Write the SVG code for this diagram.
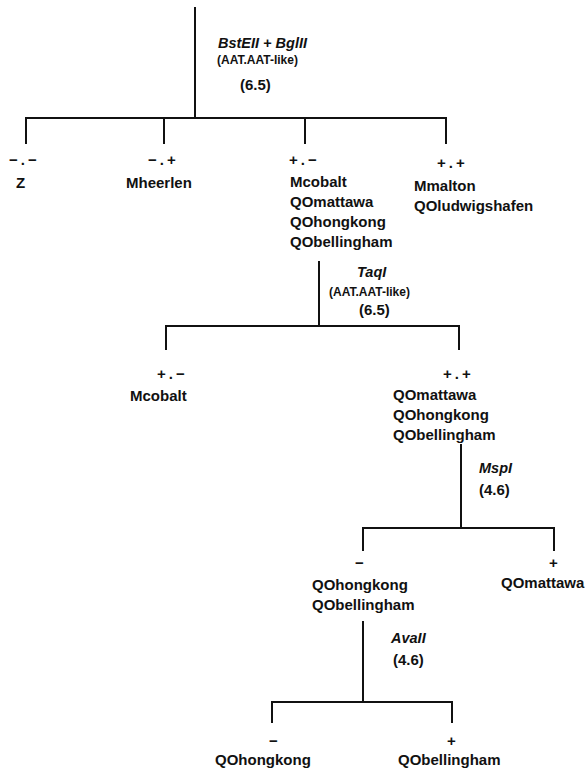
<svg xmlns="http://www.w3.org/2000/svg" width="585" height="772" viewBox="0 0 585 772">
<style>
.ln{stroke:#111;stroke-width:2;fill:none;stroke-linecap:square}
text{font-family:"Liberation Sans",Arial,sans-serif;fill:#111}
.lb{font-size:15px;font-weight:bold}
.sg{font-size:15px;font-weight:bold;letter-spacing:3px}
.en{font-size:14.5px;font-style:italic;font-weight:bold}
.sm{font-size:12px;font-weight:bold}
.nm{font-size:15px;font-weight:bold}
</style>
<rect width="585" height="772" fill="#fff"/>
<g id="connectors">
<path class="ln" d="M195,8 V118 M26,118 H446 M26,118 V143 M164,118 V143 M305,118 V143 M446,118 V143"/>
<path class="ln" d="M319,262 V326 M166,326 H459 M166,326 V349 M459,326 V349"/>
<path class="ln" d="M461,445 V528 M363,528 H554 M363,528 V550 M554,528 V550"/>
<path class="ln" d="M363,622 V702 M272,702 H452 M272,702 V722 M452,702 V722"/>
<text class="en" x="218" y="48">BstEII + BglII</text>
<text class="sm" x="217" y="64">(AAT.AAT-like)</text>
<text class="nm" x="240" y="90">(6.5)</text>
<text class="en" x="357" y="277">TaqI</text>
<text class="sm" x="329" y="296">(AAT.AAT-like)</text>
<text class="nm" x="359" y="315">(6.5)</text>
<text class="en" x="479" y="473">MspI</text>
<text class="nm" x="479" y="495">(4.6)</text>
<text class="en" x="391" y="643">AvaII</text>
<text class="nm" x="393" y="665">(4.6)</text>
</g>
<g id="n_z">
<text class="sg" x="9" y="165">−.−</text>
<text class="lb" x="16" y="188">Z</text>
</g>
<g id="n_mheerlen">
<text class="sg" x="148" y="165">−.+</text>
<text class="lb" x="126" y="188">Mheerlen</text>
</g>
<g id="n_mcobalt_group">
<text class="sg" x="289" y="165">+.−</text>
<text class="lb" x="290" y="187">Mcobalt</text>
<text class="lb" x="290" y="207">QOmattawa</text>
<text class="lb" x="290" y="227">QOhongkong</text>
<text class="lb" x="290" y="247">QObellingham</text>
</g>
<g id="n_mmalton">
<text class="sg" x="437" y="168">+.+</text>
<text class="lb" x="414" y="191">Mmalton</text>
<text class="lb" x="414" y="211">QOludwigshafen</text>
</g>
<g id="n_mcobalt">
<text class="sg" x="157" y="379">+.−</text>
<text class="lb" x="130" y="401">Mcobalt</text>
</g>
<g id="n_qo_group">
<text class="sg" x="443" y="379">+.+</text>
<text class="lb" x="393" y="400">QOmattawa</text>
<text class="lb" x="393" y="420">QOhongkong</text>
<text class="lb" x="393" y="440">QObellingham</text>
</g>
<g id="n_hk_bell">
<text class="lb" x="355" y="568">−</text>
<text class="lb" x="312" y="590">QOhongkong</text>
<text class="lb" x="312" y="610">QObellingham</text>
</g>
<g id="n_mattawa">
<text class="lb" x="549" y="568">+</text>
<text class="lb" x="501" y="588">QOmattawa</text>
</g>
<g id="n_hongkong">
<text class="lb" x="269" y="746">−</text>
<text class="lb" x="215" y="765">QOhongkong</text>
</g>
<g id="n_bellingham">
<text class="lb" x="447" y="746">+</text>
<text class="lb" x="398" y="765">QObellingham</text>
</g>
</svg>
